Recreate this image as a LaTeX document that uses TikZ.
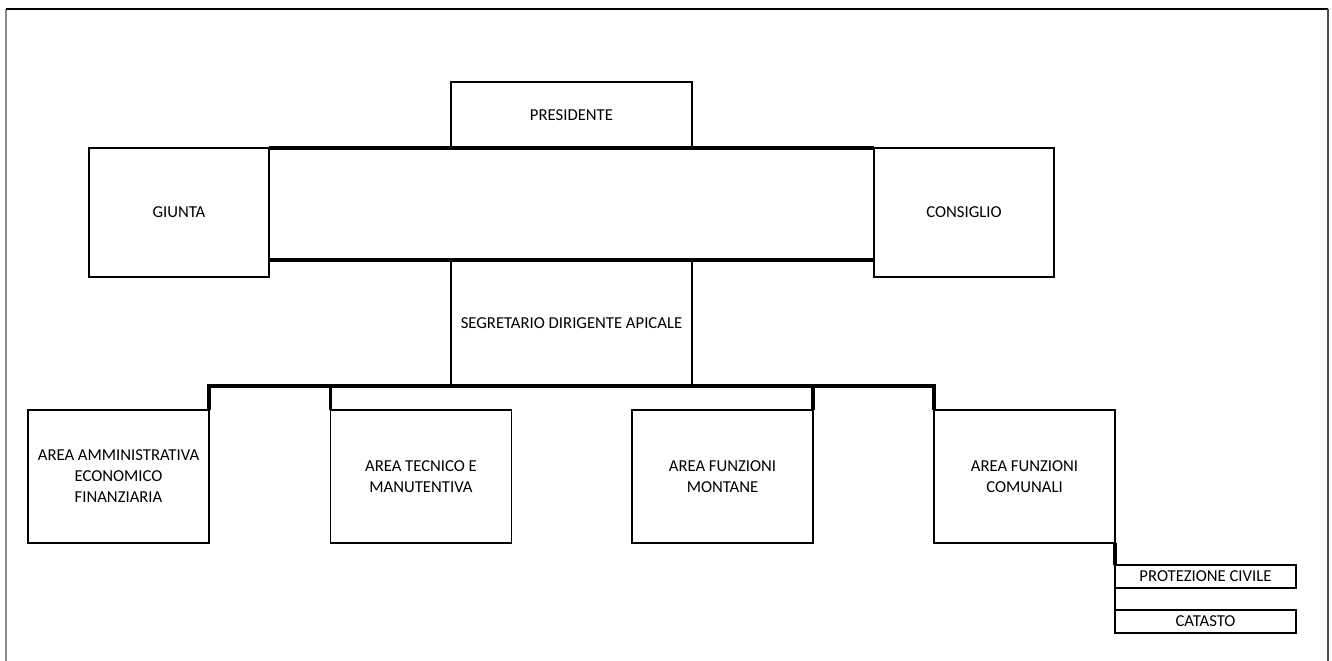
\documentclass[tikz,border=0pt]{standalone}
\usepackage{fontspec}
\setmainfont{Carlito}
\tikzset{
  box/.style={draw, line width=1pt, outer sep=0pt, inner sep=0pt, align=center,
    font=\fontsize{9.5}{12}\selectfont},
  bar/.style={line width=2.2pt},
}

\begin{document}
\begin{tikzpicture}[x=0.02cm, y=-0.02cm]
	%%%%% START %%%%%
	\useasboundingbox (0,0) rectangle (1332,661);
	
	\draw[line width=1pt, color=black!45] (6,661) -- (6,9);
	\draw[line width=0.8pt] (6,9) -- (1328,9);
	\draw[line width=0.6pt, color=black!70] (1328,9) -- (1328,661);
	
	\node[box, minimum width=4.82cm, minimum height=1.32cm] (presidente) at (571.5,115) {PRESIDENTE};
	\node[box, minimum width=3.6cm, minimum height=2.58cm] (giunta) at (179,212.5) {GIUNTA};
	\node[box, minimum width=3.6cm, minimum height=2.58cm] (consiglio) at (964,212.5) {CONSIGLIO};
	\node[box, minimum width=4.82cm, minimum height=2.52cm] (segretario) at (571.5,323) {SEGRETARIO DIRIGENTE APICALE};
	
	\node[box, minimum width=3.62cm, minimum height=2.66cm] (amministrativa) at (118.5,476.5) {AREA AMMINISTRATIVA\\ECONOMICO\\FINANZIARIA};
	\node[box, minimum width=3.62cm, minimum height=2.66cm] (tecnico) at (421,476.5) {AREA TECNICO E\\MANUTENTIVA};
	\node[box, minimum width=3.62cm, minimum height=2.66cm] (montane) at (722.5,476.5) {AREA FUNZIONI\\MONTANE};
	\node[box, minimum width=3.62cm, minimum height=2.66cm] (comunali) at (1024.5,476.5) {AREA FUNZIONI\\COMUNALI};
	
	\node[box, minimum width=3.62cm, minimum height=0.46cm] (protezione) at (1205.5,576.5) {PROTEZIONE CIVILE};
	\node[box, minimum width=3.62cm, minimum height=0.46cm] (catasto) at (1205.5,621.5) {CATASTO};
	
	% linee di collegamento
	\draw[bar] (giunta.north east) -- (consiglio.north west);
	\draw[bar] (giunta.east |- segretario.north) -- (consiglio.west |- segretario.north);
	
	\draw[bar] (amministrativa.north east) -- (amministrativa.north east |- segretario.south)
		-- (comunali.north west |- segretario.south) -- (comunali.north west);
	\draw[bar] (tecnico.north west) -- (tecnico.north west |- segretario.south);
	\draw[bar] (montane.north east) -- (montane.north east |- segretario.south);
	
	\draw[bar] (comunali.south east) -- (protezione.north west);
	\draw[line width=1pt] (protezione.south west) -- (catasto.north west);
	
	%%%%% END %%%%%
\end{tikzpicture}
\end{document}
